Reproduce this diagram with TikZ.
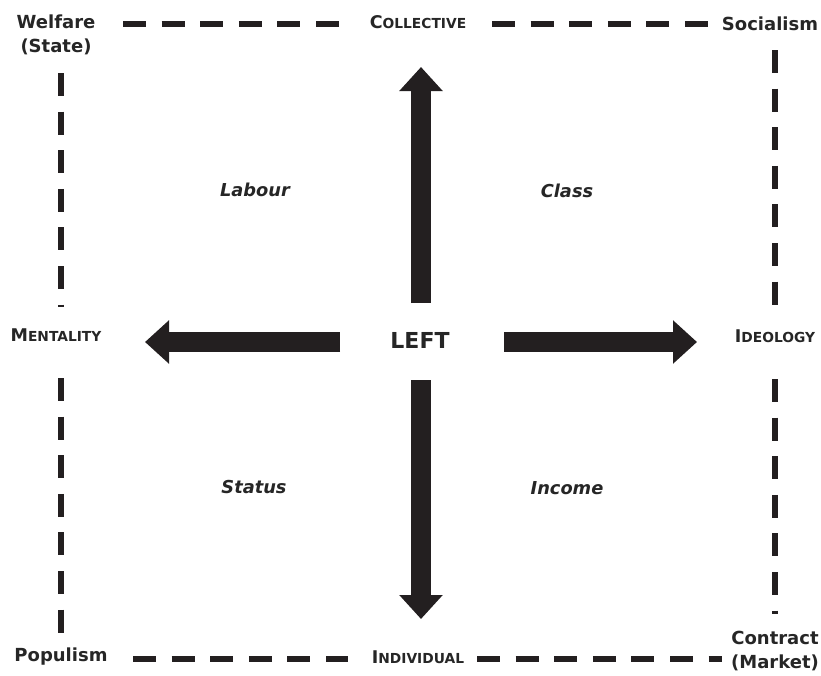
\documentclass[tikz,border=0pt]{standalone}
\usepackage{fontspec}
\setmainfont{DejaVu Sans}
\usetikzlibrary{arrows.meta}
\definecolor{ink}{HTML}{231F20}
\definecolor{txt}{HTML}{262626}
\newcommand\fsz[1]{\fontsize{#1}{#1}\selectfont}
\newcommand\myscap[2]{{\fsz{17.5}#1}{\fsz{13.8}#2}}
\tikzset{
  border/.style={line width=5.5pt, color=ink, dash pattern=on 23pt off 15.6pt},
  lab/.style={text=txt, font=\bfseries\fsz{18}, inner sep=0pt, align=center},
  quad/.style={text=txt, font=\bfseries\itshape\fsz{17.8}, inner sep=0pt},
  sclab/.style={text=txt, font=\bfseries, inner sep=0pt},
  blockarrow/.style={line width=20pt, color=ink, -{Triangle[width=42pt,length=24pt]}},
}
\begin{document}
\begin{tikzpicture}[x=1pt,y=-1pt]
\useasboundingbox (0,0) rectangle (821,675);
% labels
\node[lab] (welfare) at (56,35) {Welfare\\[6pt](State)};
\node[lab] (socialism) at (770,24) {Socialism};
\node[lab] (populism) at (61,657) {Populism};
\node[lab] (contract) at (775,651) {Contract\\[6pt](Market)};
\node[sclab] (collective) at (418,22) {\myscap{C}{OLLECTIVE}};
\node[sclab] (individual) at (418,657) {\myscap{I}{NDIVIDUAL}};
\node[sclab] (mentality) at (56,335) {\myscap{M}{ENTALITY}};
\node[sclab] (ideology) at (775,336) {\myscap{I}{DEOLOGY}};
\node[text=txt, font=\bfseries\fsz{22}, inner sep=0pt] (left) at (420,340) {LEFT};
\node[quad] (labour) at (255,190) {Labour};
\node[quad] (class) at (567,191) {Class};
\node[quad] (status) at (254,487) {Status};
\node[quad] (income) at (567,488) {Income};
% dashed frame
\coordinate (t1a) at (123,24); \coordinate (t1b) at (339,24);
\coordinate (t2a) at (492,24); \coordinate (t2b) at (708,24);
\coordinate (b1a) at (133,659); \coordinate (b1b) at (348,659);
\coordinate (b2a) at (477,659); \coordinate (b2b) at (722,659);
\coordinate (l1a) at (61,73); \coordinate (l1b) at (61,307);
\coordinate (l2a) at (61,378); \coordinate (l2b) at (61,636);
\coordinate (r1a) at (775,50); \coordinate (r1b) at (775,305);
\coordinate (r2a) at (775,379); \coordinate (r2b) at (775,614);
\draw[border] (t1a) -- (t1b);
\draw[border] (t2a) -- (t2b);
\draw[border] (b1a) -- (b1b);
\draw[border] (b2a) -- (b2b);
\draw[border] (l1a) -- (l1b);
\draw[border] (l2a) -- (l2b);
\draw[border] (r1a) -- (r1b);
\draw[border] (r2a) -- (r2b);
% arrows
\coordinate (us) at (421,303); \coordinate (ut) at (421,67);
\coordinate (ds) at (421,380); \coordinate (dt) at (421,619);
\coordinate (ls) at (340,342); \coordinate (lt) at (145,342);
\coordinate (rs) at (504,342); \coordinate (rt) at (697,342);
\draw[blockarrow] (us) -- (ut);
\draw[blockarrow] (ds) -- (dt);
\draw[blockarrow] (ls) -- (lt);
\draw[blockarrow] (rs) -- (rt);
\end{tikzpicture}
\end{document}
